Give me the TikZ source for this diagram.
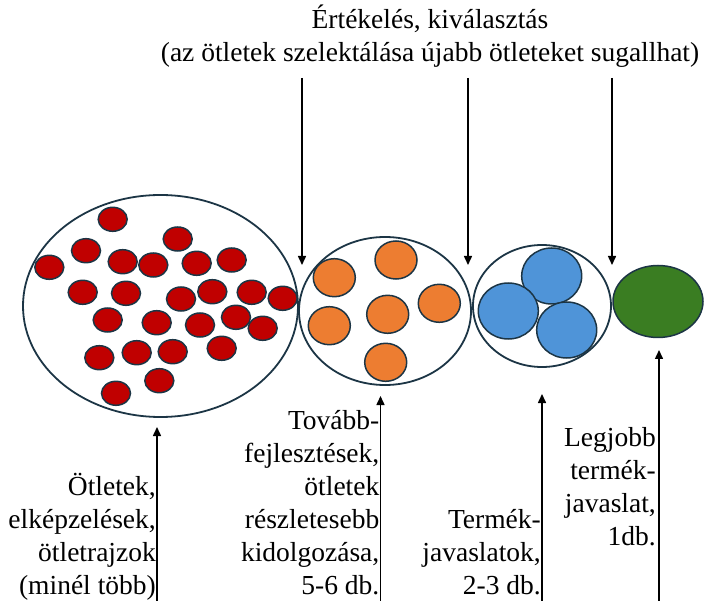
\documentclass[tikz,border=0pt]{standalone}
\usepackage{fontspec}
\setmainfont{Liberation Serif}
\usetikzlibrary{shapes.geometric,arrows.meta}
\definecolor{edge}{HTML}{1C3545}
\definecolor{dred}{HTML}{C00000}
\definecolor{orng}{HTML}{ED7D31}
\definecolor{blu}{HTML}{4F94D8}
\definecolor{grn}{HTML}{3A7D22}
\begin{document}
\begin{tikzpicture}[x=1pt,y=-1pt,
  pool/.style={ellipse,draw=edge,line width=1.8pt,inner sep=0pt},
  rdot/.style={ellipse,draw=edge,line width=1.5pt,fill=dred,minimum width=29pt,minimum height=24pt,inner sep=0pt},
  odot/.style={ellipse,draw=edge,line width=1.5pt,fill=orng,minimum width=42pt,minimum height=38pt,inner sep=0pt},
  bdot/.style={ellipse,draw=edge,line width=1.5pt,fill=blu,minimum width=60pt,minimum height=56pt,inner sep=0pt},
  arr/.style={line width=1.5pt,-{Triangle[length=9pt,width=8pt]}},
  lbl/.style={inner sep=0pt,anchor=base east,font=\fontsize{27.5}{33}\selectfont}]
\useasboundingbox (0,0) rectangle (704,601);
% title
\node[inner sep=0pt,anchor=base,font=\fontsize{27.5}{33}\selectfont] (title) at (430,62)
  {\begin{tabular}[b]{@{}c@{}}Értékelés, kiválasztás\\(az ötletek szelektálása újabb ötleteket sugallhat)\end{tabular}};
% pools
\node[pool,minimum width=275pt,minimum height=222pt] (E1) at (160.5,306) {};
\node[pool,minimum width=172pt,minimum height=148pt] (E2) at (385,311) {};
\node[pool,minimum width=138pt,minimum height=122pt] (E3) at (542,306) {};
% red dots
\foreach \n/\x/\y in {1/112.7/219.3,2/177.7/239,3/86/250.7,4/49.3/267.3,5/122.7/261.7,6/153.3/265,7/196.7/263.3,8/231.7/260,9/82.7/292.3,10/126/293.3,11/181/299,12/212.3/291.7,13/251.7/292.3,14/282.7/298.3,15/107.7/320,16/156.7/322.7,17/200/325,18/236/317.3,19/262.7/328.3,20/99.3/357.7,21/136.7/352.7,22/172.7/351.7,23/221.7/348.3,24/159.3/380.7,25/116/393.3}
  \node[rdot] (r\n) at (\x,\y) {};
% orange dots
\foreach \n/\x/\y in {1/334.3/277.7,2/396/260,3/329.3/325.7,4/387.7/314.3,5/439.3/303.3,6/385.7/362.3}
  \node[odot] (o\n) at (\x,\y) {};
% blue dots
\foreach \n/\x/\y in {1/551.7/276,2/508.3/311,3/566.7/330}
  \node[bdot] (b\n) at (\x,\y) {};
% green
\node[ellipse,draw=edge,line width=1.5pt,fill=grn,minimum width=90pt,minimum height=72pt,inner sep=0pt] (g) at (658,301.5) {};
% down arrows
\coordinate (d1s) at (302,78); \coordinate (d1e) at (302,265);
\coordinate (d2s) at (468,78); \coordinate (d2e) at (468,265);
\coordinate (d3s) at (612,78); \coordinate (d3e) at (612,265);
\draw[arr] (d1s) -- (d1e);
\draw[arr] (d2s) -- (d2e);
\draw[arr] (d3s) -- (d3e);
% up arrows
\coordinate (u1s) at (157,601); \coordinate (u1e) at (157,427);
\coordinate (u2s) at (380.5,601); \coordinate (u2e) at (380.5,396);
\coordinate (u3s) at (542,601); \coordinate (u3e) at (542,394);
\coordinate (u4s) at (659,601); \coordinate (u4e) at (659,350);
\draw[arr] (u1s) -- (u1e);
\draw[arr] (u2s) -- (u2e);
\draw[arr] (u3s) -- (u3e);
\draw[arr] (u4s) -- (u4e);
% labels
\node[lbl] (l1) at (156,594) {\begin{tabular}[b]{@{}r@{}}Ötletek,\\elképzelések,\\ötletrajzok\\(minél több)\end{tabular}};
\node[lbl] (l2) at (379.5,594) {\begin{tabular}[b]{@{}r@{}}Tovább-\\fejlesztések,\\ötletek\\részletesebb\\kidolgozása,\\5-6 db.\end{tabular}};
\node[lbl] (l3) at (541,594) {\begin{tabular}[b]{@{}r@{}}Termék-\\javaslatok,\\2-3 db.\end{tabular}};
\node[lbl] (l4) at (656,545) {\begin{tabular}[b]{@{}r@{}}Legjobb\\termék-\\javaslat,\\1db.\end{tabular}};
\end{tikzpicture}
\end{document}
